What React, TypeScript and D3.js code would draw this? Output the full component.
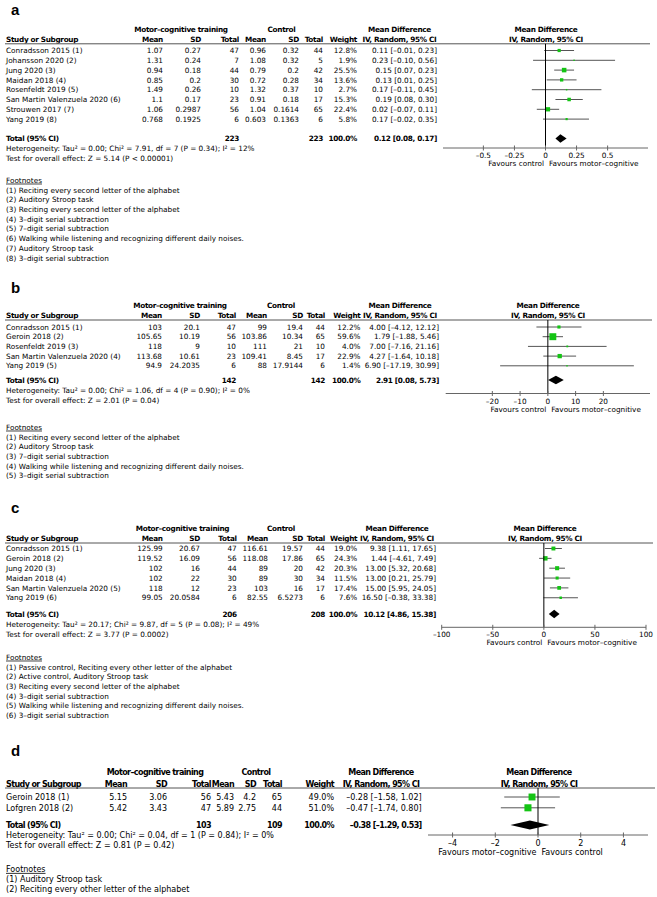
import React from 'react';
import * as d3 from 'd3';

const W = 657;
const H = 897;
const FONT = '"DejaVu Sans", sans-serif';
const GREEN = '#14c414';

// ---- panel a ----
const aStudies = ['Conradsson 2015 (1)', 'Johansson 2020 (2)', 'Jung 2020 (3)', 'Maidan 2018 (4)', 'Rosenfeldt 2019 (5)', 'San Martin Valenzuela 2020 (6)', 'Strouwen 2017 (7)', 'Yang 2019 (8)'];
const aMcMean = [1.07, 1.31, 0.94, 0.85, 1.49, 1.1, 1.06, 0.768];
const aMcSD = [0.27, 0.24, 0.18, 0.2, 0.26, 0.17, 0.2987, 0.1925];
const aMcN = [47, 7, 44, 30, 10, 23, 56, 6];
const aCMean = [0.96, 1.08, 0.79, 0.72, 1.32, 0.91, 1.04, 0.603];
const aCSD = [0.32, 0.32, 0.2, 0.28, 0.37, 0.18, 0.1614, 0.1363];
const aCN = [44, 5, 42, 34, 10, 17, 65, 6];
const aWeight = [12.8, 1.9, 25.5, 13.6, 2.7, 15.3, 22.4, 5.8];
const aMD = [0.11, 0.23, 0.15, 0.13, 0.17, 0.19, 0.02, 0.17];
const aLo = [-0.01, -0.10, 0.07, 0.01, -0.11, 0.08, -0.07, -0.02];
const aHi = [0.23, 0.56, 0.23, 0.25, 0.45, 0.30, 0.11, 0.35];
const aTotal = { mcN: 223, cN: 223, md: 0.12, lo: 0.08, hi: 0.17 };
const aHet = 'Heterogeneity: Tau² = 0.00; Chi² = 7.91, df = 7 (P = 0.34); I² = 12%';
const aTest = 'Test for overall effect: Z = 5.14 (P < 0.00001)';
const aTicks = [-0.5, -0.25, 0, 0.25, 0.5];
const aFoot = ['(1) Reciting every second letter of the alphabet', '(2) Auditory Stroop task', '(3) Reciting every second letter of the alphabet', '(4) 3–digit serial subtraction', '(5) 7–digit serial subtraction', '(6) Walking while listening and recognizing different daily noises.', '(7) Auditory Stroop task', '(8) 3–digit serial subtraction'];

// ---- panel b ----
const bStudies = ['Conradsson 2015 (1)', 'Geroin 2018 (2)', 'Rosenfeldt 2019 (3)', 'San Martin Valenzuela 2020 (4)', 'Yang 2019 (5)'];
const bMcMean = [103, 105.65, 118, 113.68, 94.9];
const bMcSD = [20.1, 10.19, 9, 10.61, 24.2035];
const bMcN = [47, 56, 10, 23, 6];
const bCMean = [99, 103.86, 111, 109.41, 88];
const bCSD = [19.4, 10.34, 21, 8.45, 17.9144];
const bCN = [44, 65, 10, 17, 6];
const bWeight = [12.2, 59.6, 4.0, 22.9, 1.4];
const bMD = [4.00, 1.79, 7.00, 4.27, 6.90];
const bLo = [-4.12, -1.88, -7.16, -1.64, -17.19];
const bHi = [12.12, 5.46, 21.16, 10.18, 30.99];
const bTotal = { mcN: 142, cN: 142, md: 2.91, lo: 0.08, hi: 5.73 };
const bHet = 'Heterogeneity: Tau² = 0.00; Chi² = 1.06, df = 4 (P = 0.90); I² = 0%';
const bTest = 'Test for overall effect: Z = 2.01 (P = 0.04)';
const bTicks = [-20, -10, 0, 10, 20];
const bFoot = ['(1) Reciting every second letter of the alphabet', '(2) Auditory Stroop task', '(3) 7–digit serial subtraction', '(4) Walking while listening and recognizing different daily noises.', '(5) 3–digit serial subtraction'];

// ---- panel c ----
const cStudies = ['Conradsson 2015 (1)', 'Geroin 2018 (2)', 'Jung 2020 (3)', 'Maidan 2018 (4)', 'San Martin Valenzuela 2020 (5)', 'Yang 2019 (6)'];
const cMcMean = [125.99, 119.52, 102, 102, 118, 99.05];
const cMcSD = [20.67, 16.09, 16, 22, 12, 20.0584];
const cMcN = [47, 56, 44, 30, 23, 6];
const cCMean = [116.61, 118.08, 89, 89, 103, 82.55];
const cCSD = [19.57, 17.86, 20, 30, 16, 6.5273];
const cCN = [44, 65, 42, 34, 17, 6];
const cWeight = [19.0, 24.3, 20.3, 11.5, 17.4, 7.6];
const cMD = [9.38, 1.44, 13.00, 13.00, 15.00, 16.50];
const cLo = [1.11, -4.61, 5.32, 0.21, 5.95, -0.38];
const cHi = [17.65, 7.49, 20.68, 25.79, 24.05, 33.38];
const cTotal = { mcN: 206, cN: 208, md: 10.12, lo: 4.86, hi: 15.38 };
const cHet = 'Heterogeneity: Tau² = 20.17; Chi² = 9.87, df = 5 (P = 0.08); I² = 49%';
const cTest = 'Test for overall effect: Z = 3.77 (P = 0.0002)';
const cTicks = [-100, -50, 0, 50, 100];
const cFoot = ['(1) Passive control, Reciting every other letter of the alphabet', '(2) Active control, Auditory Stroop task', '(3) Reciting every second letter of the alphabet', '(4) 3–digit serial subtraction', '(5) Walking while listening and recognizing different daily noises.', '(6) 3–digit serial subtraction'];

// ---- panel d ----
const dStudies = ['Geroin 2018 (1)', 'Lofgren 2018 (2)'];
const dMcMean = [5.15, 5.42];
const dMcSD = [3.06, 3.43];
const dMcN = [56, 47];
const dCMean = [5.43, 5.89];
const dCSD = [4.2, 2.75];
const dCN = [65, 44];
const dWeight = [49.0, 51.0];
const dMD = [-0.28, -0.47];
const dLo = [-1.58, -1.74];
const dHi = [1.02, 0.80];
const dTotal = { mcN: 103, cN: 109, md: -0.38, lo: -1.29, hi: 0.53 };
const dHet = 'Heterogeneity: Tau² = 0.00; Chi² = 0.04, df = 1 (P = 0.84); I² = 0%';
const dTest = 'Test for overall effect: Z = 0.81 (P = 0.42)';
const dTicks = [-4, -2, 0, 2, 4];
const dFoot = ['(1) Auditory Stroop task', '(2) Reciting every other letter of the alphabet'];

const dash = (s: string) => s.replace('-', '–');
const f2 = (v: number) => dash(v.toFixed(2));
const ci = (m: number, l: number, h: number) => `${f2(m)} [${f2(l)}, ${f2(h)}]`;

const panels = [
  {
    tag: 'a', studies: aStudies, mcMean: aMcMean, mcSD: aMcSD, mcN: aMcN, cMean: aCMean, cSD: aCSD, cN: aCN,
    weight: aWeight, md: aMD, lo: aLo, hi: aHi, total: aTotal, het: aHet, test: aTest, ticks: aTicks, foot: aFoot,
    favL: 'Favours control', favR: 'Favours motor–cognitive',
    L: { s: 1, ls: -0.32, tagY: 15, h1: 29, h2: 39, rule: 43.8, row0: 50.5, step: 9.8, total: 138.5, het: 148.5, test: 158.5,
      fn: 180, fn0: 190, fnStep: 9.7, axisY: 148, xr: [443, 648], dom: [-0.825, 0.825],
      cols: [163, 201, 239, 266, 299, 323, 357, 437], mcHead: 181, cHead: 281.5, mdHead: 399.5, plotHead: 546, ruleEnd: 650 },
  },
  {
    tag: 'b', studies: bStudies, mcMean: bMcMean, mcSD: bMcSD, mcN: bMcN, cMean: bCMean, cSD: bCSD, cN: bCN,
    weight: bWeight, md: bMD, lo: bLo, hi: bHi, total: bTotal, het: bHet, test: bTest, ticks: bTicks, foot: bFoot,
    favL: 'Favours control', favR: 'Favours motor–cognitive',
    L: { s: 1, ls: -0.32, tagY: 293, h1: 305, h2: 315, rule: 320, row0: 327, step: 9.7, total: 380, het: 390, test: 400,
      fn: 427, fn0: 437, fnStep: 9.7, axisY: 393.5, xr: [445.7, 650], dom: [-36.8, 36.8],
      cols: [162, 200, 236, 267, 303, 325, 360.5, 439], mcHead: 180, cHead: 281, mdHead: 400, plotHead: 548, ruleEnd: 652 },
  },
  {
    tag: 'c', studies: cStudies, mcMean: cMcMean, mcSD: cMcSD, mcN: cMcN, cMean: cCMean, cSD: cCSD, cN: cCN,
    weight: cWeight, md: cMD, lo: cLo, hi: cHi, total: cTotal, het: cHet, test: cTest, ticks: cTicks, foot: cFoot,
    favL: 'Favours control', favR: 'Favours motor–cognitive',
    L: { s: 1, ls: -0.32, tagY: 513, h1: 528, h2: 538, rule: 543, row0: 548.5, step: 9.85, total: 614, het: 624, test: 634,
      fn: 657, fn0: 667, fnStep: 9.66, axisY: 627.3, xr: [441.7, 646], dom: [-100, 100],
      cols: [162.7, 200, 236.7, 268, 303, 325, 357.3, 436], mcHead: 182.5, cHead: 281, mdHead: 397, plotHead: 545, ruleEnd: 653 },
  },
  {
    tag: 'd', studies: dStudies, mcMean: dMcMean, mcSD: dMcSD, mcN: dMcN, cMean: dCMean, cSD: dCSD, cN: dCN,
    weight: dWeight, md: dMD, lo: dLo, hi: dHi, total: dTotal, het: dHet, test: dTest, ticks: dTicks, foot: dFoot,
    favL: 'Favours motor–cognitive', favR: 'Favours control',
    L: { s: 1.1, ls: -0.6, tagY: 756, h1: 772, h2: 784, rule: 788, row0: 797, step: 10.8, total: 825, het: 835.5, test: 845.5,
      fn: 869, fn0: 879, fnStep: 10.3, axisY: 835, xr: [428, 648], dom: [-5.15, 5.15],
      cols: [127, 167, 211, 234, 256, 282, 334, 421.7], mcHead: 155, cHead: 256, mdHead: 381, plotHead: 539, ruleEnd: 655 },
  },
];

function Panel({ p }: { p: any }) {
  const L = p.L;
  const fs = 7.3 * L.s;
  const x = d3.scaleLinear().domain(L.dom).range(L.xr);
  const zero = x(0);
  const rowY = (i: number) => L.row0 + i * L.step;
  const T = (props: any) => <text fontSize={fs} dy="0.36em" {...props} />;
  // bold glyphs of the original face are narrower than DejaVu Bold
  const B = (props: any) => <text fontSize={fs} dy="0.36em" fontWeight="bold" letterSpacing={L.ls} {...props} />;
  const boxK = 0.9 * L.s;
  const dh = 4.2 * L.s;
  const diamond = d3.line()([
    [x(p.total.lo), L.total], [x(p.total.md), L.total - dh], [x(p.total.hi), L.total], [x(p.total.md), L.total + dh],
  ]) + 'Z';
  const c = L.cols;
  const headers2 = ['Mean', 'SD', 'Total', 'Mean', 'SD', 'Total', 'Weight'];

  return (
    <g fontFamily={FONT} fill="#000">
      <text x={11} y={L.tagY} fontSize={15} fontWeight="bold" fontFamily='"Liberation Sans", Arial, sans-serif'>{p.tag}</text>

      {/* header */}
      <B x={L.mcHead} y={L.h1} textAnchor="middle">Motor–cognitive training</B>
      <B x={L.cHead} y={L.h1} textAnchor="middle">Control</B>
      <B x={L.mdHead} y={L.h1} textAnchor="middle">Mean Difference</B>
      <B x={L.plotHead} y={L.h1} textAnchor="middle">Mean Difference</B>
      <B x={6} y={L.h2}>Study or Subgroup</B>
      {headers2.map((h, i) => <B key={i} x={c[i]} y={L.h2} textAnchor="end">{h}</B>)}
      <B x={L.mdHead} y={L.h2} textAnchor="middle">IV, Random, 95% CI</B>
      <B x={L.plotHead} y={L.h2} textAnchor="middle">IV, Random, 95% CI</B>
      <line x1={5} x2={L.ruleEnd} y1={L.rule} y2={L.rule} stroke="#555" strokeWidth={1} />

      {/* study rows */}
      {p.studies.map((st: string, i: number) => {
        const y = rowY(i);
        const vals = [p.mcMean[i], p.mcSD[i], p.mcN[i], p.cMean[i], p.cSD[i], p.cN[i]].map(String);
        const side = Math.max(1.4, boxK * Math.sqrt(p.weight[i]));
        return (
          <g key={st}>
            <T x={6} y={y}>{st}</T>
            {vals.map((v, j) => <T key={j} x={c[j]} y={y} textAnchor="end">{v}</T>)}
            <T x={c[6]} y={y} textAnchor="end">{p.weight[i].toFixed(1) + '%'}</T>
            <T x={c[7]} y={y} textAnchor="end">{ci(p.md[i], p.lo[i], p.hi[i])}</T>
            <line x1={x(p.lo[i])} x2={x(p.hi[i])} y1={y} y2={y} stroke="#555" strokeWidth={1} />
            <rect x={x(p.md[i]) - side / 2} y={y - side / 2} width={side} height={side} fill={GREEN} />
          </g>
        );
      })}

      {/* total */}
      <B x={6} y={L.total}>Total (95% CI)</B>
      <B x={c[2]} y={L.total} textAnchor="end">{p.total.mcN}</B>
      <B x={c[5]} y={L.total} textAnchor="end">{p.total.cN}</B>
      <B x={c[6]} y={L.total} textAnchor="end">100.0%</B>
      <B x={c[7]} y={L.total} textAnchor="end">{ci(p.total.md, p.total.lo, p.total.hi)}</B>
      <path d={diamond} fill="#000" />
      <T x={6} y={L.het}>{p.het}</T>
      <T x={6} y={L.test}>{p.test}</T>

      {/* plot axis */}
      <line x1={zero} x2={zero} y1={L.rule} y2={L.axisY} stroke="#000" strokeWidth={1} />
      <line x1={L.xr[0]} x2={L.xr[1]} y1={L.axisY} y2={L.axisY} stroke="#666" strokeWidth={1} />
      {p.ticks.map((t: number) => (
        <g key={t}>
          <line x1={x(t)} x2={x(t)} y1={L.axisY - 2.5} y2={L.axisY + 2.5} stroke="#666" strokeWidth={1} />
          <T x={x(t)} y={L.axisY + 7.5 * L.s} textAnchor="middle">{dash(String(t))}</T>
        </g>
      ))}
      <T x={zero - 1.5} y={L.axisY + 15.5 * L.s} textAnchor="end">{p.favL}</T>
      <T x={zero + 3.5} y={L.axisY + 15.5 * L.s}>{p.favR}</T>

      {/* footnotes */}
      <T x={6} y={L.fn} textDecoration="underline">Footnotes</T>
      {p.foot.map((f: string, i: number) => <T key={i} x={6} y={L.fn0 + i * L.fnStep}>{f}</T>)}
    </g>
  );
}

export default function App() {
  return (
    <svg width={W} height={H} style={{ position: 'absolute', left: 0, top: 0, background: '#fff' }}>
      <rect width={W} height={H} fill="#fff" />
      {panels.map((p) => <Panel key={p.tag} p={p} />)}
    </svg>
  );
}
